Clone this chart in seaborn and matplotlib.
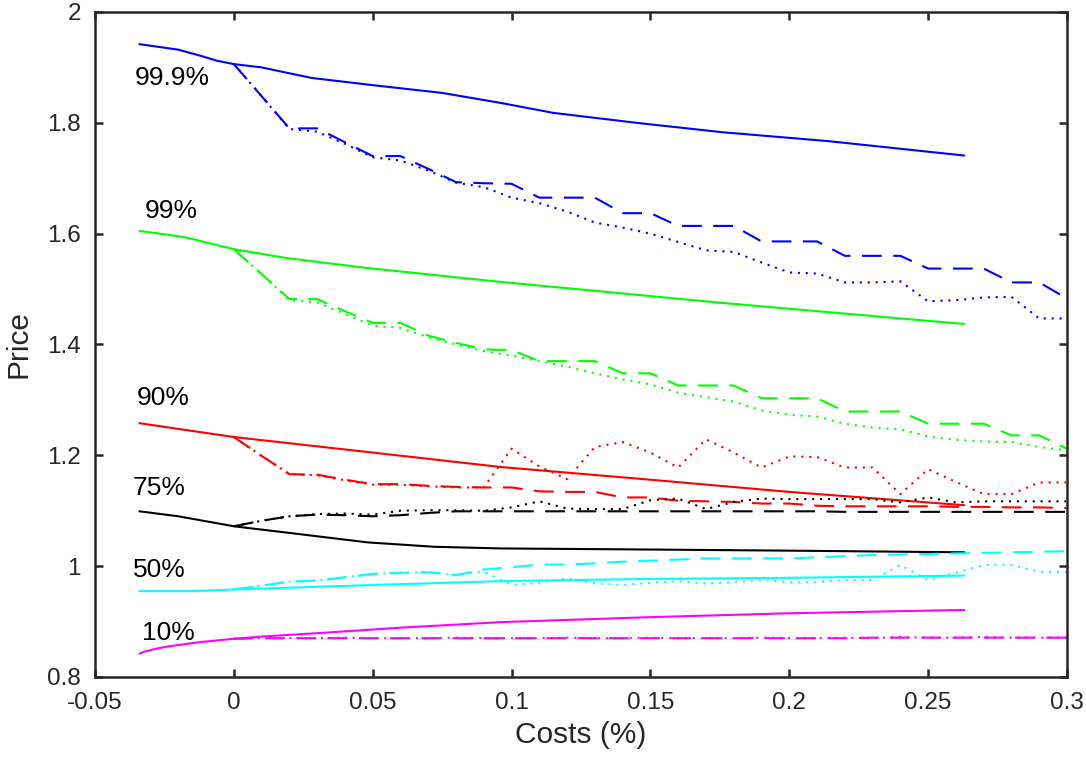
import matplotlib
matplotlib.use("Agg")
import matplotlib.pyplot as plt
import pandas as pd
import seaborn as sns

# ---------------- data ----------------
COSTS = [0.00, 0.01, 0.02, 0.03, 0.04, 0.05, 0.06, 0.07, 0.08, 0.09, 0.10,
         0.11, 0.12, 0.13, 0.14, 0.15, 0.16, 0.17, 0.18, 0.19, 0.20,
         0.21, 0.22, 0.23, 0.24, 0.25, 0.26, 0.27, 0.28, 0.29, 0.30]

# 99.9%
Q999_SOLID_X = [-0.034, -0.02, -0.012, -0.006, 0.0, 0.01, 0.028, 0.05, 0.075, 0.096, 0.115, 0.145, 0.176, 0.214, 0.263]
Q999_SOLID_Y = [1.942, 1.932, 1.921, 1.912, 1.906, 1.900, 1.881, 1.868, 1.854, 1.836, 1.818, 1.800, 1.783, 1.767, 1.741]
Q999_DASHED = [1.906, 1.848, 1.790, 1.790, 1.765, 1.740, 1.740, 1.717, 1.693, 1.691, 1.690,
               1.665, 1.665, 1.665, 1.637, 1.637, 1.614, 1.614, 1.614, 1.586, 1.586,
               1.586, 1.560, 1.560, 1.560, 1.537, 1.537, 1.537, 1.512, 1.512, 1.483]
Q999_DOTTED = [1.906, 1.848, 1.789, 1.784, 1.762, 1.738, 1.732, 1.714, 1.692, 1.684, 1.665,
               1.655, 1.640, 1.620, 1.611, 1.600, 1.585, 1.570, 1.567, 1.548, 1.530,
               1.528, 1.512, 1.512, 1.514, 1.478, 1.480, 1.485, 1.486, 1.447, 1.447]

# 99%
Q99_SOLID_X = [-0.034, -0.018, 0.0, 0.019, 0.048, 0.096, 0.176, 0.263]
Q99_SOLID_Y = [1.605, 1.594, 1.572, 1.556, 1.538, 1.513, 1.475, 1.437]
Q99_DASHED = [1.572, 1.527, 1.482, 1.482, 1.460, 1.439, 1.439, 1.416, 1.403, 1.391, 1.390,
              1.370, 1.370, 1.370, 1.348, 1.348, 1.326, 1.326, 1.326, 1.303, 1.303,
              1.303, 1.279, 1.279, 1.279, 1.257, 1.257, 1.257, 1.236, 1.236, 1.212]
Q99_DOTTED = [1.572, 1.527, 1.480, 1.476, 1.455, 1.434, 1.430, 1.413, 1.400, 1.388, 1.380,
              1.370, 1.360, 1.348, 1.337, 1.328, 1.313, 1.305, 1.297, 1.281, 1.273,
              1.270, 1.257, 1.250, 1.247, 1.234, 1.228, 1.225, 1.224, 1.215, 1.209]

# 90%
Q90_SOLID_X = [-0.034, 0.0, 0.05, 0.096, 0.15, 0.2, 0.263]
Q90_SOLID_Y = [1.258, 1.233, 1.205, 1.179, 1.156, 1.134, 1.110]
Q90_DASHED = [1.233, 1.199, 1.166, 1.165, 1.156, 1.148, 1.148, 1.145, 1.143, 1.142, 1.142,
              1.135, 1.134, 1.134, 1.124, 1.124, 1.118, 1.117, 1.116, 1.113, 1.113,
              1.109, 1.108, 1.108, 1.108, 1.108, 1.107, 1.107, 1.106, 1.106, 1.105]
Q90_DOTTED = [1.233, 1.199, 1.166, 1.164, 1.155, 1.147, 1.147, 1.144, 1.142, 1.142, 1.212,
              1.180, 1.157, 1.215, 1.224, 1.205, 1.178, 1.229, 1.205, 1.178, 1.198,
              1.197, 1.178, 1.178, 1.130, 1.175, 1.152, 1.130, 1.130, 1.151, 1.151]

# 75%
Q75_SOLID_X = [-0.034, -0.02, 0.0, 0.02, 0.048, 0.072, 0.096, 0.15, 0.2, 0.263]
Q75_SOLID_Y = [1.099, 1.090, 1.072, 1.060, 1.043, 1.035, 1.032, 1.030, 1.028, 1.025]
Q75_DASHED = [1.072, 1.082, 1.090, 1.093, 1.092, 1.090, 1.092, 1.096, 1.099, 1.099, 1.099,
              1.099, 1.099, 1.099, 1.099, 1.099, 1.099, 1.099, 1.099, 1.099, 1.099,
              1.099, 1.098, 1.098, 1.098, 1.098, 1.098, 1.098, 1.098, 1.098, 1.098]
Q75_DOTTED = [1.072, 1.082, 1.090, 1.094, 1.095, 1.093, 1.100, 1.101, 1.101, 1.100, 1.106,
              1.117, 1.104, 1.103, 1.103, 1.119, 1.122, 1.103, 1.116, 1.122, 1.121,
              1.121, 1.121, 1.121, 1.115, 1.124, 1.115, 1.117, 1.117, 1.117, 1.117]

# 50%
Q50_SOLID_X = [-0.034, -0.015, 0.0, 0.05, 0.096, 0.15, 0.2, 0.263]
Q50_SOLID_Y = [0.955, 0.955, 0.958, 0.966, 0.973, 0.977, 0.979, 0.983]
Q50_DASHED = [0.958, 0.965, 0.972, 0.974, 0.980, 0.986, 0.988, 0.989, 0.984, 0.994, 0.998,
              1.003, 1.003, 1.005, 1.008, 1.010, 1.012, 1.014, 1.014, 1.014, 1.014,
              1.016, 1.018, 1.020, 1.021, 1.022, 1.023, 1.024, 1.025, 1.026, 1.027]
Q50_DOTTED = [0.958, 0.965, 0.972, 0.974, 0.980, 0.986, 0.988, 0.989, 0.984, 0.990, 0.966,
              0.970, 0.978, 0.969, 0.966, 0.970, 0.973, 0.969, 0.971, 0.975, 0.971,
              0.971, 0.975, 0.975, 1.002, 0.975, 0.988, 1.002, 1.002, 0.990, 0.989]

# 10%
Q10_SOLID_X = [-0.034, -0.032, -0.028, -0.024, -0.018, -0.012, -0.006, 0.0, 0.01, 0.02, 0.036, 0.06, 0.096, 0.15, 0.2, 0.263]
Q10_SOLID_Y = [0.842, 0.846, 0.851, 0.855, 0.859, 0.863, 0.866, 0.869, 0.873, 0.876, 0.881, 0.889, 0.899, 0.908, 0.915, 0.921]
Q10_DASHED = [0.869, 0.870, 0.870, 0.870, 0.870, 0.870, 0.870, 0.870, 0.870, 0.870, 0.870,
              0.870, 0.870, 0.870, 0.870, 0.870, 0.870, 0.870, 0.870, 0.870, 0.870,
              0.870, 0.870, 0.871, 0.871, 0.871, 0.871, 0.871, 0.871, 0.871, 0.871]
Q10_DOTTED = [0.869, 0.870, 0.870, 0.870, 0.871, 0.870, 0.870, 0.870, 0.871, 0.870, 0.870,
              0.870, 0.871, 0.870, 0.870, 0.871, 0.870, 0.870, 0.870, 0.871, 0.870,
              0.870, 0.871, 0.870, 0.872, 0.871, 0.871, 0.872, 0.871, 0.871, 0.871]

LABELS = ["99.9%", "99%", "90%", "75%", "50%", "10%"]
LABEL_X = [-0.0358, -0.0322, -0.0351, -0.0365, -0.0362, -0.0329]
LABEL_Y = [1.868, 1.628, 1.2906, 1.128, 0.980, 0.8664]

XTICKS = [-0.05, 0, 0.05, 0.1, 0.15, 0.2, 0.25, 0.3]
XTICKLABELS = ["-0.05", "0", "0.05", "0.1", "0.15", "0.2", "0.25", "0.3"]
YTICKS = [0.8, 1.0, 1.2, 1.4, 1.6, 1.8, 2.0]
YTICKLABELS = ["0.8", "1", "1.2", "1.4", "1.6", "1.8", "2"]

GROUPS = [
    ("#0000FF", Q999_SOLID_X, Q999_SOLID_Y, Q999_DASHED, Q999_DOTTED),
    ("#00FF00", Q99_SOLID_X, Q99_SOLID_Y, Q99_DASHED, Q99_DOTTED),
    ("#FF0000", Q90_SOLID_X, Q90_SOLID_Y, Q90_DASHED, Q90_DOTTED),
    ("#000000", Q75_SOLID_X, Q75_SOLID_Y, Q75_DASHED, Q75_DOTTED),
    ("#00FFFF", Q50_SOLID_X, Q50_SOLID_Y, Q50_DASHED, Q50_DOTTED),
    ("#FF00FF", Q10_SOLID_X, Q10_SOLID_Y, Q10_DASHED, Q10_DOTTED),
]

# ---------------- style ----------------
sns.set_theme(style="ticks")
plt.rcParams['font.family'] = ['Liberation Sans', 'DejaVu Sans']
FRAME = "#262626"

W, H = 1086, 763
fig = plt.figure(figsize=(W / 100, H / 100), dpi=100)
ax = fig.add_axes([95 / W, 1 - 677 / H, (1067 - 95) / W, (677 - 12) / H])

LW = 1.5
DASH = (0, (9.5, 5.5))
DOT = (0, (1, 2.8))

for color, sx, sy, dashed, dotted in GROUPS:
    sns.lineplot(x=sx, y=sy, ax=ax, color=color, linewidth=LW, linestyle="-",
                 sort=False, estimator=None, errorbar=None, legend=False)
    sns.lineplot(x=COSTS, y=dashed, ax=ax, color=color, linewidth=LW, linestyle=DASH,
                 sort=False, estimator=None, errorbar=None, legend=False)
    sns.lineplot(x=COSTS, y=dotted, ax=ax, color=color, linewidth=LW, linestyle=DOT,
                 sort=False, estimator=None, errorbar=None, legend=False)

for txt, lx, ly in zip(LABELS, LABEL_X, LABEL_Y):
    ax.text(lx, ly, txt, fontsize=19, color="black", ha="left", va="baseline")

ax.set_xlim(-0.05, 0.3)
ax.set_ylim(0.8, 2.0)
ax.set_xticks(XTICKS)
ax.set_xticklabels(XTICKLABELS)
ax.set_yticks(YTICKS)
ax.set_yticklabels(YTICKLABELS)
ax.set_xlabel("Costs (%)", fontsize=21.5, color=FRAME, labelpad=5)
ax.set_ylabel("Price", fontsize=21.5, color=FRAME, labelpad=11)

for side in ["left", "right", "top", "bottom"]:
    ax.spines[side].set_visible(True)
    ax.spines[side].set_color(FRAME)
    ax.spines[side].set_linewidth(1.8)
ax.tick_params(axis="both", which="both", direction="in", length=5.5, width=1.8,
               colors=FRAME, labelsize=17.5, top=True, right=True)
ax.tick_params(axis="x", pad=11)
ax.tick_params(axis="y", pad=10)
ax.set_facecolor("white")
fig.patch.set_facecolor("white")

fig.savefig("out.png", dpi=100, facecolor="white")
